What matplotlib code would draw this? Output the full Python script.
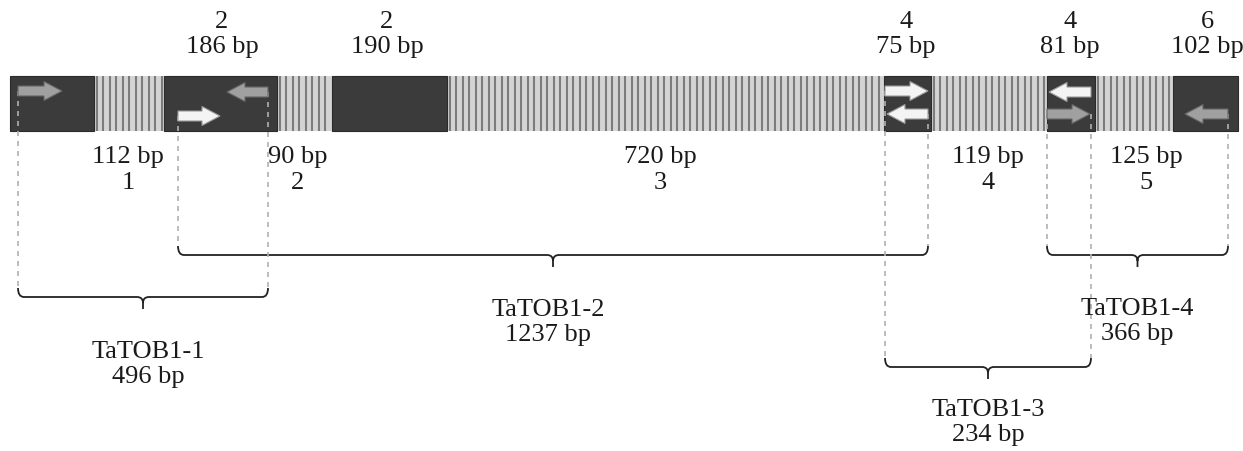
import numpy as np
import matplotlib
matplotlib.use("Agg")
import matplotlib.pyplot as plt
from matplotlib.patches import Rectangle, FancyArrow, PathPatch
from matplotlib.path import Path

plt.rcParams['font.family'] = ['Liberation Serif', 'DejaVu Serif']

# gene segments (pixel-scale positions along the gene bar)
seg_edges = [10, 94, 164, 277, 332, 447, 884, 931, 1047, 1095, 1173, 1238]
seg_kind = ['exon', 'intron', 'exon', 'intron', 'exon', 'intron',
            'exon', 'intron', 'exon', 'intron', 'exon']

# labels above exons
exon_lab_x = [222, 387, 906, 1070, 1207]
exon_num = ['2', '2', '4', '4', '6']
exon_bp = ['186 bp', '190 bp', '75 bp', '81 bp', '102 bp']

# labels below introns
intron_lab_x = [128, 298, 660, 988, 1146]
intron_bp = ['112 bp', '90 bp', '720 bp', '119 bp', '125 bp']
intron_num = ['1', '2', '3', '4', '5']

# primers: tail x, head x, y, colour
arrow_tail = [18, 268, 178, 885, 928, 1091, 1047, 1228]
arrow_head = [62, 227, 220, 928, 887, 1049, 1090, 1185]
arrow_y = [91, 92, 116, 91, 114, 92, 114, 114]
arrow_col = ['gray', 'gray', 'light', 'light', 'light', 'light', 'gray', 'gray']

# PCR products
prod_name = ['TaTOB1-1', 'TaTOB1-2', 'TaTOB1-3', 'TaTOB1-4']
prod_size = ['496 bp', '1237 bp', '234 bp', '366 bp']
prod_left = [18, 178, 885, 1047]
prod_right = [268, 928, 1091, 1228]
prod_left_y = [91, 116, 91, 114]
prod_right_y = [92, 114, 114, 114]
bracket_y = [297, 255, 367, 255]
prod_lab_x = [148, 548, 988, 1137]
prod_lab_y = [352, 310, 410, 309]

bar_top, bar_bot = 76, 131

fig = plt.figure(figsize=(12.43, 4.51), dpi=100)
ax = fig.add_axes([0, 0, 1, 1])
ax.set_xlim(0, 1243)
ax.set_ylim(451, 0)
ax.axis('off')

# gene bar
for i, kind in enumerate(seg_kind):
    x0, x1 = seg_edges[i], seg_edges[i + 1]
    if kind == 'exon':
        ax.add_patch(Rectangle((x0, bar_top), x1 - x0, bar_bot - bar_top,
                               facecolor='#3b3b3b', edgecolor='#2a2a2a', lw=0.8, zorder=2))
    else:
        ax.add_patch(Rectangle((x0, bar_top), x1 - x0, bar_bot - bar_top,
                               facecolor='#d4d4d4', edgecolor='none', zorder=1))
        xs = np.arange(x0 + 3, x1 - 1, 6.5)
        ax.vlines(xs, bar_top, bar_bot, color='#7c7c7c', lw=1.5, zorder=1.5)

# dashed guide lines
for i in range(len(prod_name)):
    ax.plot([prod_left[i], prod_left[i]], [prod_left_y[i], bracket_y[i] - 9],
            ls=(0, (3, 3)), color='#b0b0b0', lw=1.2, zorder=3)
    ax.plot([prod_right[i], prod_right[i]], [prod_right_y[i], bracket_y[i] - 9],
            ls=(0, (3, 3)), color='#b0b0b0', lw=1.2, zorder=3)

# primer arrows
for xt, xh, y, c in zip(arrow_tail, arrow_head, arrow_y, arrow_col):
    fc = '#a0a0a0' if c == 'gray' else '#f4f4f4'
    ec = '#666666' if c == 'gray' else '#999999'
    ax.add_patch(FancyArrow(xt, y, xh - xt, 0, width=10, head_width=19, head_length=18,
                            length_includes_head=True, facecolor=fc, edgecolor=ec,
                            lw=0.8, zorder=4))


def brace(x0, x1, y):
    xm = (x0 + x1) / 2
    r = 6
    verts = [(x0, y - 9), (x0, y), (x0 + r, y), (xm - r, y), (xm, y), (xm, y + r),
             (xm, y + 12), (xm, y + r), (xm, y), (xm + r, y), (x1 - r, y), (x1, y), (x1, y - 9)]
    codes = [Path.MOVETO, Path.CURVE3, Path.CURVE3, Path.LINETO, Path.CURVE3, Path.CURVE3,
             Path.LINETO, Path.MOVETO, Path.CURVE3, Path.CURVE3, Path.LINETO, Path.CURVE3, Path.CURVE3]
    ax.add_patch(PathPatch(Path(verts, codes), facecolor='none', edgecolor='#222222', lw=1.3))


for i in range(len(prod_name)):
    brace(prod_left[i], prod_right[i], bracket_y[i])
    ax.text(prod_lab_x[i], prod_lab_y[i], prod_name[i], ha='center', va='center',
            fontsize=19, color='#1a1a1a')
    ax.text(prod_lab_x[i], prod_lab_y[i] + 25, prod_size[i], ha='center', va='center',
            fontsize=19, color='#1a1a1a')

for x, n, b in zip(exon_lab_x, exon_num, exon_bp):
    ax.text(x, 22, n, ha='center', va='center', fontsize=19, color='#1a1a1a')
    ax.text(x, 47, b, ha='center', va='center', fontsize=19, color='#1a1a1a')

for x, b, n in zip(intron_lab_x, intron_bp, intron_num):
    ax.text(x, 157, b, ha='center', va='center', fontsize=19, color='#1a1a1a')
    ax.text(x, 183, n, ha='center', va='center', fontsize=19, color='#1a1a1a')

fig.savefig('out.png', dpi=100)
